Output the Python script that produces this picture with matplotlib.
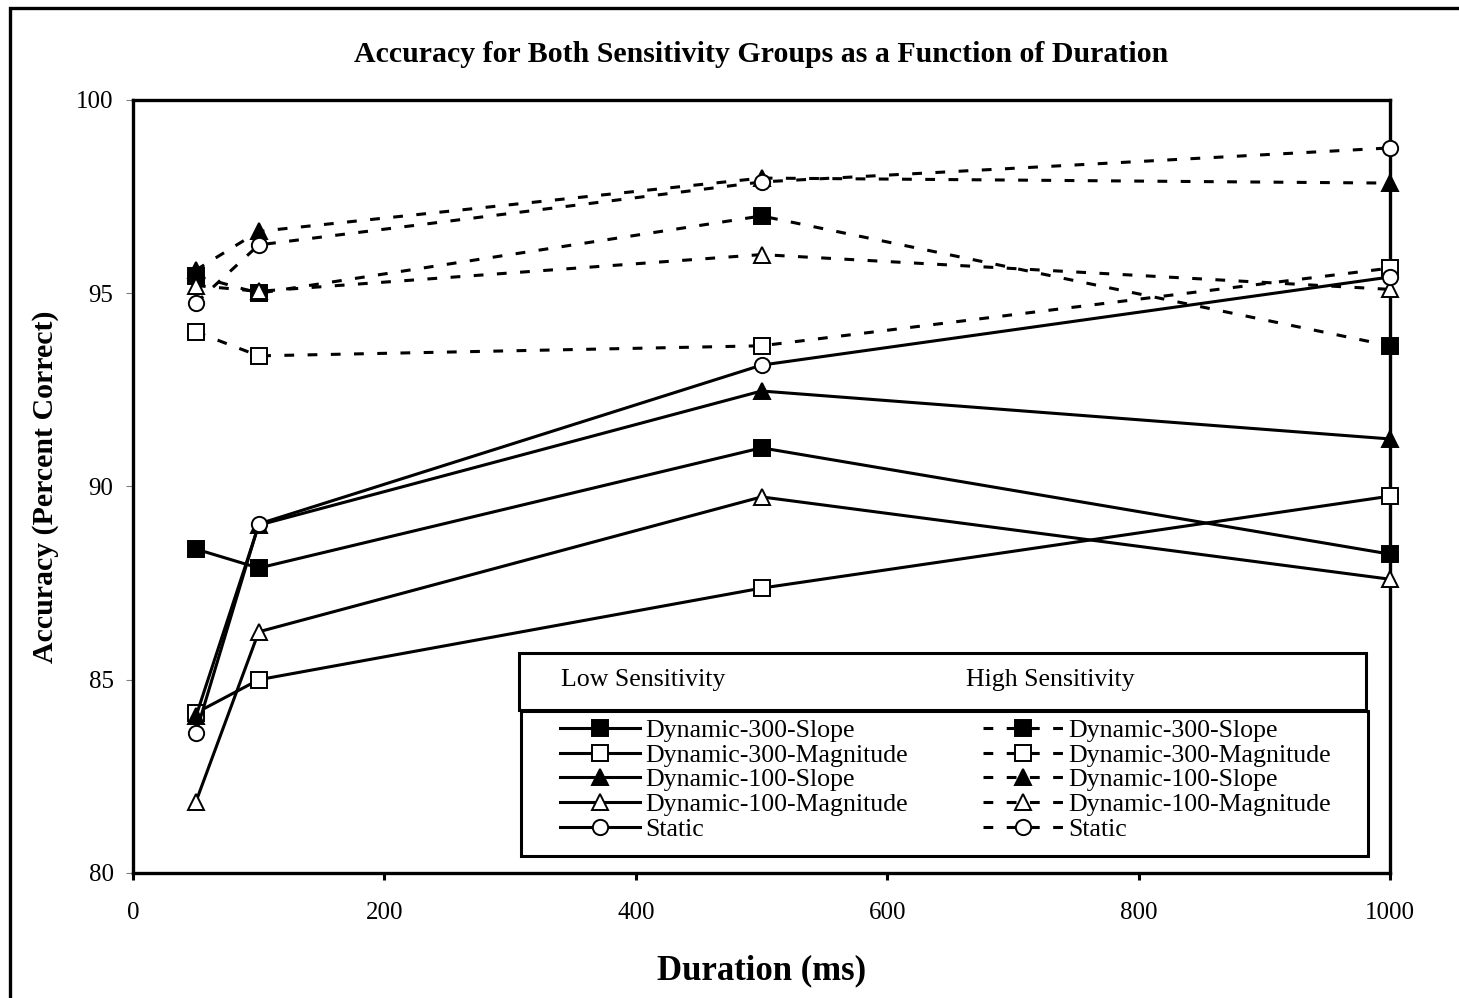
import matplotlib.pyplot as plt
from matplotlib.lines import Line2D
from matplotlib.patches import Rectangle

plt.rcParams['font.family'] = ['Liberation Serif', 'DejaVu Serif']

# Durations (ms) and accuracies (percent correct)
durations = [50, 100, 500, 1000]

low_d300_slope = [88.38, 87.89, 91.00, 88.25]
low_d300_mag = [84.14, 85.00, 87.37, 89.75]
low_d100_slope = [84.05, 89.00, 92.47, 91.23]
low_d100_mag = [81.84, 86.24, 89.73, 87.60]
low_static = [83.62, 89.03, 93.14, 95.42]

high_d300_slope = [95.45, 95.00, 97.00, 93.64]
high_d300_mag = [94.00, 93.38, 93.64, 95.65]
high_d100_slope = [95.60, 96.60, 97.98, 97.85]
high_d100_mag = [95.20, 95.05, 96.00, 95.10]
high_static = [94.75, 96.25, 97.88, 98.76]

labels = ['Dynamic-300-Slope', 'Dynamic-300-Magnitude', 'Dynamic-100-Slope',
          'Dynamic-100-Magnitude', 'Static']
low_series = [low_d300_slope, low_d300_mag, low_d100_slope, low_d100_mag, low_static]
high_series = [high_d300_slope, high_d300_mag, high_d100_slope, high_d100_mag, high_static]
markers = [('s', 'black'), ('s', 'white'), ('^', 'black'), ('^', 'white'), ('o', 'white')]

fig = plt.figure(figsize=(14.59, 9.98), dpi=100)
ax = fig.add_axes([0.0912, 0.1253, 0.8615, 0.7745])

# outer frame around the whole figure
fig.patches.append(Rectangle((10 / 1459, -0.2), 1.2, 1.2 - 8 / 998,
                             transform=fig.transFigure, fill=False,
                             edgecolor='black', linewidth=2.4))

dash = (0, (3.2, 4.4))
style = dict(color='black', linewidth=2.2, markersize=11,
             markeredgecolor='black', markeredgewidth=1.4)

for vals, (m, fc) in zip(high_series, markers):
    ax.plot(durations, vals, linestyle=dash, marker=m, markerfacecolor=fc,
            clip_on=False, zorder=3, **style)
for vals, (m, fc) in zip(low_series, markers):
    ax.plot(durations, vals, linestyle='-', marker=m, markerfacecolor=fc,
            clip_on=False, zorder=4, **style)

handles_low = [Line2D([], [], linestyle='-', marker=m, markerfacecolor=fc,
                      label=lab, **style)
               for lab, (m, fc) in zip(labels, markers)]
handles_high = [Line2D([], [], linestyle=dash, marker=m, markerfacecolor=fc,
                       label=lab, **style)
                for lab, (m, fc) in zip(labels, markers)]

ax.set_xlim(0, 1000)
ax.set_ylim(80, 100)
ax.set_xticks([0, 200, 400, 600, 800, 1000])
ax.set_yticks([80, 85, 90, 95, 100])
for sp in ax.spines.values():
    sp.set_linewidth(2.4)
ax.tick_params(axis='x', direction='out', length=5, width=2.2, labelsize=18, pad=16)
ax.tick_params(axis='y', direction='out', length=5, width=0.8, color='grey',
               labelsize=18, pad=9)

ax.set_title('Accuracy for Both Sensitivity Groups as a Function of Duration',
             fontsize=21.5, fontweight='bold', pad=27)
ax.set_xlabel('Duration (ms)', fontsize=25, fontweight='bold', labelpad=22)
ax.set_ylabel('Accuracy (Percent Correct)', fontsize=21.5, fontweight='bold', labelpad=12)

# legend header box
ax.add_patch(Rectangle((0.307, 0.211), 0.674, 0.0736, transform=ax.transAxes,
                       fill=False, edgecolor='black', linewidth=2.2, zorder=5,
                       clip_on=False))
ax.text(0.3405, 0.2497, 'Low Sensitivity', transform=ax.transAxes,
        fontsize=18.6, va='center', ha='left', zorder=6)
ax.text(0.6627, 0.2497, 'High Sensitivity', transform=ax.transAxes,
        fontsize=18.6, va='center', ha='left', zorder=6)

# legend body box
ax.add_patch(Rectangle((0.3087, 0.022), 0.6738, 0.1876, transform=ax.transAxes,
                       facecolor='white', edgecolor='black', linewidth=2.2, zorder=5,
                       clip_on=False))
leg = ax.legend(handles=handles_low + handles_high, ncol=2, frameon=False,
                loc='upper left', bbox_to_anchor=(0.3397, 0.199),
                fontsize=18.6, handlelength=3.1, handletextpad=0.2,
                labelspacing=0.06, columnspacing=2.9, borderpad=0,
                borderaxespad=0)
leg.set_zorder(7)

fig.savefig('out.png', dpi=100)
